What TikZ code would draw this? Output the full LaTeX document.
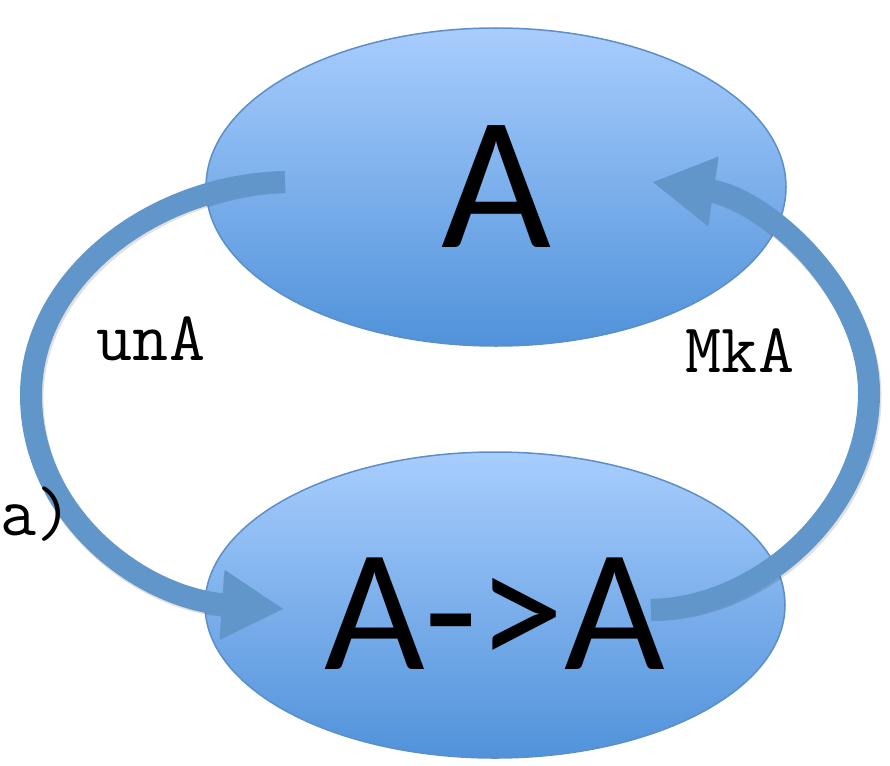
\documentclass[tikz,border=0pt]{standalone}
\usepackage{fontspec}
\setmainfont{Carlito}
\usetikzlibrary{shapes.geometric,arrows.meta}
\definecolor{elltop}{RGB}{168,205,253}
\definecolor{ellbot}{RGB}{80,146,218}
\definecolor{ellline}{RGB}{92,142,200}
\definecolor{arrblue}{RGB}{96,150,202}
\tikzset{
  blob/.style={ellipse, draw=ellline, line width=1.5pt, top color=elltop, bottom color=ellbot, inner sep=0pt},
  bigarrow/.style={draw=arrblue, line width=22pt, -{Triangle[width=64pt,length=62pt]}, arrows={[fill=arrblue]}},
  arrshadow/.style={draw=black, opacity=0.12, line width=22pt, -{Triangle[width=64pt,length=62pt]}},
  codelabel/.style={font=\ttfamily\fontsize{70}{70}\selectfont, inner sep=0pt, anchor=base}
}
\begin{document}
\begin{tikzpicture}[x=1pt,y=-1pt]
\useasboundingbox (0,0) rectangle (890,765);
\clip (0,0) rectangle (890,765);
\node[blob, minimum width=580pt, minimum height=318pt, font=\fontsize{190}{190}\selectfont] (top) at (496,187) {A};
\node[blob, minimum width=580pt, minimum height=306pt, font=\fontsize{174}{174}\selectfont, text height=128pt] (bot) at (495,605) {A->A\hspace{20pt}};
\coordinate (lt) at (285,182);
\coordinate (lh) at (284,609);
\coordinate (rt) at (651,610);
\coordinate (rh) at (652,182);
% shadows
\begin{scope}[shift={(1.5,3)}]
\draw[arrshadow] (lt) .. controls (150,185) and (31,280) .. (31,395) .. controls (31,515) and (140,598) .. (lh);
\draw[arrshadow] (rt) .. controls (760,608) and (869,510) .. (869,393) .. controls (869,290) and (765,198) .. (rh);
\end{scope}
\draw[bigarrow] (lt) .. controls (150,185) and (31,280) .. (31,395) .. controls (31,515) and (140,598) .. (lh);
\draw[bigarrow] (rt) .. controls (760,608) and (869,510) .. (869,393) .. controls (869,290) and (765,198) .. (rh);
\node[codelabel] (una) at (151,360) {unA};
\node[codelabel] (mka) at (740,372) {MkA};
\node[codelabel, anchor=base west] (cut) at (0,535) {a)};
\end{tikzpicture}
\end{document}
